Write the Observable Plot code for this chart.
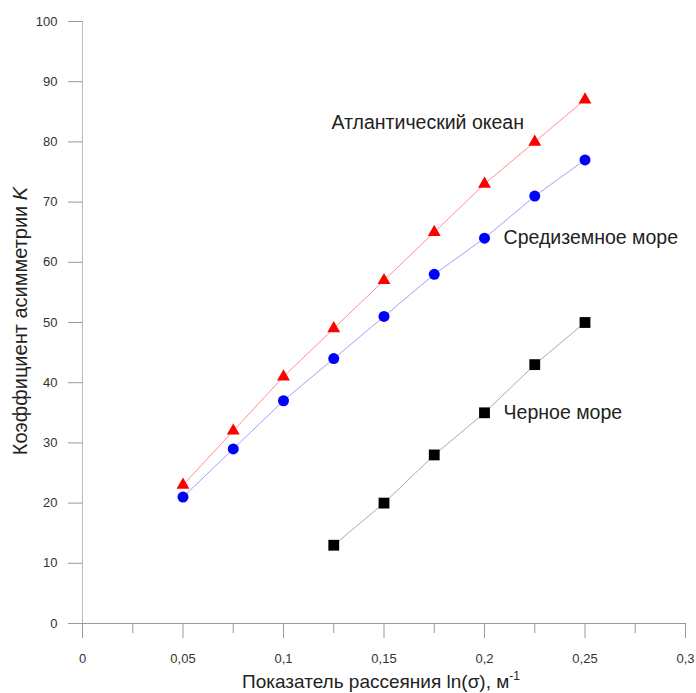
<!DOCTYPE html>
<html><head><meta charset="utf-8">
<script src="https://cdn.jsdelivr.net/npm/d3@7"></script>
<script src="https://cdn.jsdelivr.net/npm/@observablehq/plot@0.6"></script>
<style>body{margin:0;background:#fff;} #c{width:696px;height:693px;}</style>
</head><body><div id="c"></div>
<script>
const xs = [0.05, 0.075, 0.1, 0.125, 0.15, 0.175, 0.2, 0.225, 0.25];
const atlantic = [23, 32, 41, 49, 57, 65, 73, 80, 87];
const mediterranean = [21, 29, 37, 44, 51, 58, 64, 71, 77];
const xsBlack = [0.125, 0.15, 0.175, 0.2, 0.225, 0.25];
const blackSea = [13, 20, 28, 35, 43, 50];
const xMajor = [0, 0.05, 0.1, 0.15, 0.2, 0.25, 0.3];
const xMinor = [0.025, 0.075, 0.125, 0.175, 0.225, 0.275];
const yTicks = [0, 10, 20, 30, 40, 50, 60, 70, 80, 90, 100];
const seriesNames = ["Атлантический океан", "Средиземное море", "Черное море"];
const labelX = [0.1239, 0.2095, 0.2095];
const labelY = [83.2, 64, 35];
const xTitle = "Показатель рассеяния ln(σ), м";
const xTitleSup = "-1";
const yTitle = "Коэффициент асимметрии ";
const yTitleItalic = "K";

const atl = xs.map((x, i) => ({x, y: atlantic[i]}));
const med = xs.map((x, i) => ({x, y: mediterranean[i]}));
const blk = xsBlack.map((x, i) => ({x, y: blackSea[i]}));
const labels = seriesNames.map((t, i) => ({t, x: labelX[i], y: labelY[i]}));
const fmt = d => String(+d.toFixed(3)).replace(".", ",");
const font = "Liberation Sans, Arial, sans-serif";

const chart = Plot.plot({
  width: 696, height: 693,
  marginLeft: 82, marginRight: 11, marginTop: 21, marginBottom: 70,
  style: {fontFamily: font, background: "#fff"},
  x: {domain: [0, 0.3]},
  y: {domain: [0, 100]},
  marks: [
    Plot.axisY({ticks: yTicks, tickSize: 14, tickPadding: 11, stroke: "#999", fill: "#333", fontSize: 13, label: null}),
    Plot.axisX({ticks: xMajor, tickSize: 15, tickPadding: 15, tickFormat: fmt, stroke: "#999", fill: "#333", fontSize: 13, label: null}),
    Plot.axisX({ticks: xMinor, tickSize: 10, tickFormat: () => "", stroke: "#999", label: null}),
    Plot.ruleX([0], {stroke: "#bbb"}),
    Plot.ruleY([0], {stroke: "#999"}),
    Plot.line(atl, {x: "x", y: "y", stroke: "#ff9090", strokeWidth: 1}),
    Plot.line(med, {x: "x", y: "y", stroke: "#a0a0ff", strokeWidth: 1}),
    Plot.line(blk, {x: "x", y: "y", stroke: "#aaa", strokeWidth: 1}),
    Plot.dot(atl, {x: "x", y: "y", symbol: "triangle", r: 4.8, fill: "#ff0000", stroke: "none"}),
    Plot.dot(med, {x: "x", y: "y", symbol: "circle", r: 5.5, fill: "#0000ff", stroke: "none"}),
    Plot.dot(blk, {x: "x", y: "y", symbol: "square", r: 6.1, fill: "#000", stroke: "none"}),
    Plot.text(labels, {x: "x", y: "y", text: "t", textAnchor: "start", fontSize: 19.5, fill: "#222"})
  ]
});
document.getElementById("c").appendChild(chart);

const svg = d3.select(chart);
const xt = svg.append("text")
  .attr("x", 381).attr("y", 688)
  .attr("text-anchor", "middle")
  .attr("font-size", 19).attr("fill", "#222").attr("font-family", font);
xt.append("tspan").text(xTitle);
xt.append("tspan").attr("font-size", 12).attr("dy", -8).text(xTitleSup);

const yt = svg.append("text")
  .attr("transform", "translate(27,321) rotate(-90)")
  .attr("text-anchor", "middle")
  .attr("font-size", 20).attr("fill", "#222").attr("font-family", font);
yt.append("tspan").text(yTitle);
yt.append("tspan").attr("font-style", "italic").text(yTitleItalic);
</script>
</body></html>
